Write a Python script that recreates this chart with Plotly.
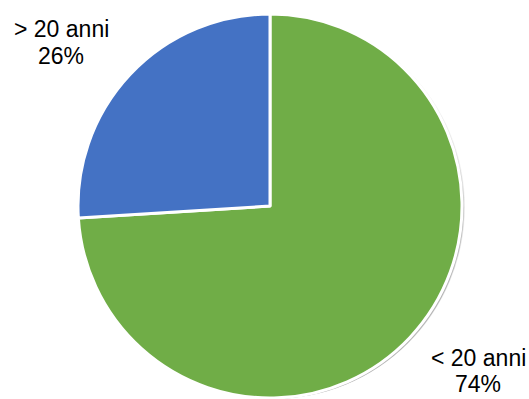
import plotly.graph_objects as go

# Age split of the group
labels = ["< 20 anni", "> 20 anni"]
values = [74, 26]
colors = ["#70AD47", "#4472C4"]

W, H = 529, 399
CX, CY, R = 270, 206, 192  # pie centre and radius in pixels (from top-left)


def dom(cx, cy, r):
    return dict(x=[(cx - r) / W, (cx + r) / W],
                y=[1 - (cy + r) / H, 1 - (cy - r) / H])


fig = go.Figure()

# soft drop shadow: stacked translucent discs offset towards bottom-right
for k, (dx, dy, dr, a) in enumerate([(3, 4, 3, 0.05), (3, 4, 2, 0.07),
                                     (3, 4, 1, 0.09), (3, 4, 0, 0.12)]):
    d = dom(CX + dx, CY + dy, R + dr)
    d["y"] = [max(0, d["y"][0]), min(1, d["y"][1])]
    fig.add_trace(go.Pie(values=[1], labels=[f"s{k}"], domain=d,
                         marker=dict(colors=[f"rgba(0,0,0,{a})"],
                                     line=dict(width=0)),
                         textinfo="none", hoverinfo="skip", showlegend=False,
                         sort=False))

fig.add_trace(go.Pie(
    labels=labels, values=values, sort=False, direction="clockwise",
    rotation=0, domain=dom(CX, CY, R),
    marker=dict(colors=colors, line=dict(color="white", width=3)),
    textinfo="none", hoverinfo="label+percent", showlegend=False,
))

total = sum(values)
pct = [f"{round(v / total * 100)}%" for v in values]

font = dict(family="Liberation Sans, Arial, sans-serif", size=23, color="#000000")
# (label index, x centre px, y centre px of name line, y centre px of percent line)
placements = [(1, 61, 29, 56), (0, 478, 358, 384)]
for i, xc, y1, y2 in placements:
    fig.add_annotation(x=xc / W, y=1 - y1 / H, xref="paper", yref="paper",
                       text=labels[i], showarrow=False, font=font,
                       xanchor="center", yanchor="middle", borderpad=0)
    fig.add_annotation(x=xc / W, y=1 - y2 / H, xref="paper", yref="paper",
                       text=pct[i], showarrow=False, font=font,
                       xanchor="center", yanchor="middle", borderpad=0)

fig.update_layout(width=W, height=H, margin=dict(l=0, r=0, t=0, b=0),
                  paper_bgcolor="white", plot_bgcolor="white")

fig.write_html("out.html")
